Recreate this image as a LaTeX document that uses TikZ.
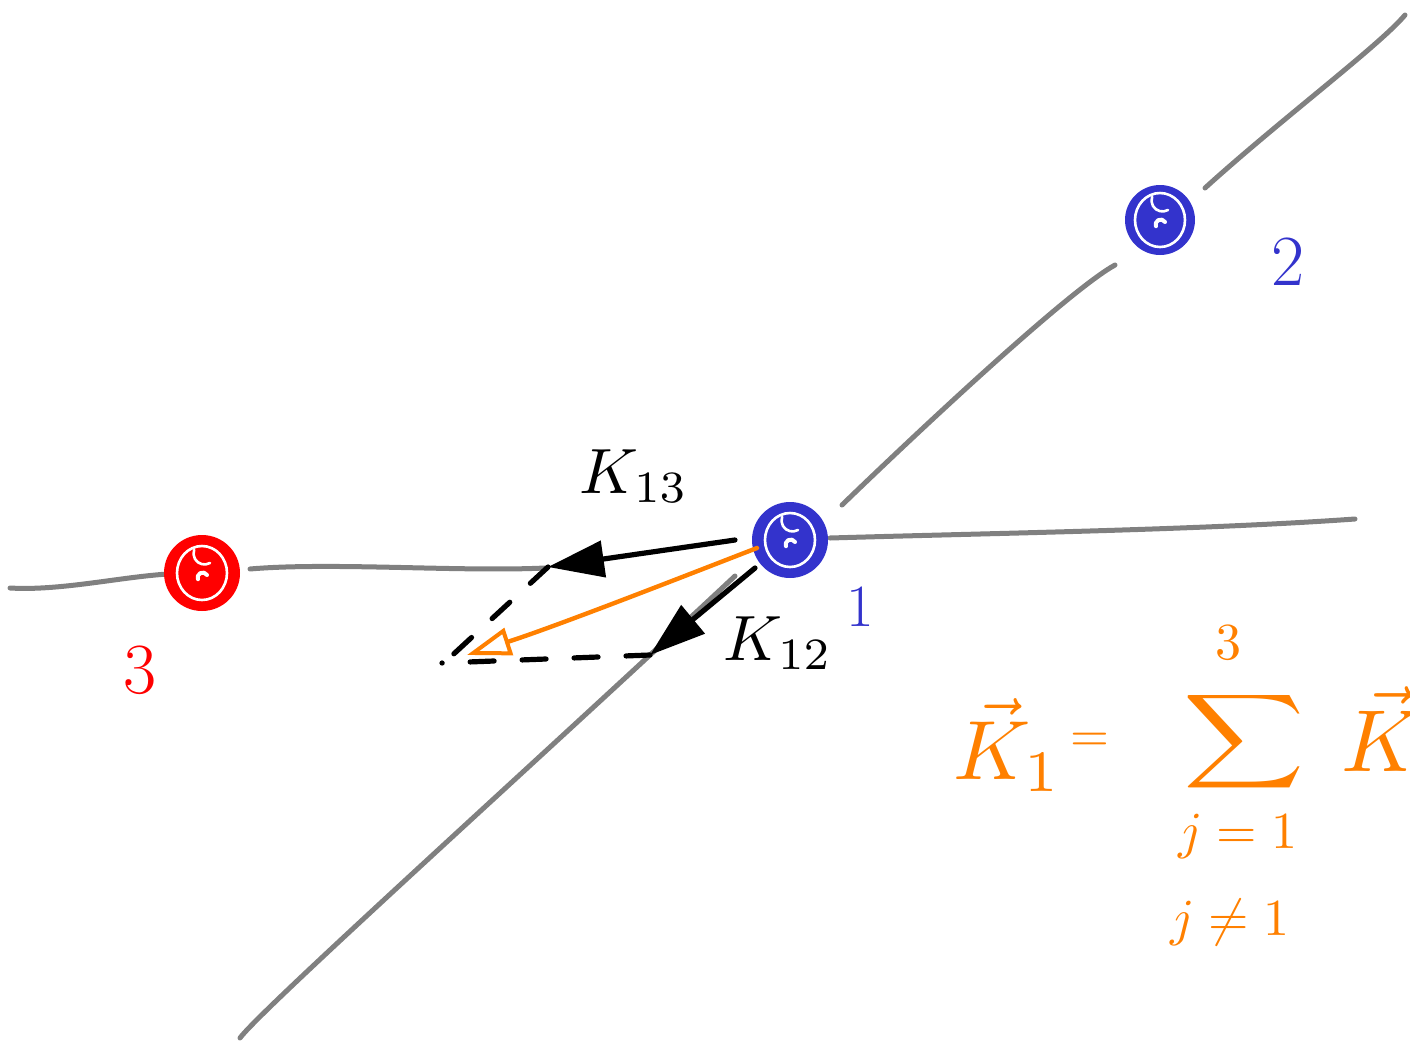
\documentclass[tikz,border=0pt]{standalone}
\usepackage{amsmath}
\usetikzlibrary{arrows.meta}
\definecolor{pblue}{RGB}{51,51,204}
\definecolor{pred}{RGB}{255,0,0}
\definecolor{porange}{RGB}{255,128,0}
\definecolor{pgray}{RGB}{128,128,128}
\begin{document}
\begin{tikzpicture}[x=0.5pt,y=-0.5pt,line cap=round,line join=round,
  track/.style={pgray,line width=2.5pt},
  particle/.style={circle,inner sep=0pt,minimum size=38pt},
  swirl/.style={white,line width=1.3pt},
  force/.style={black,line width=2.6pt,-{Triangle[length=28pt,width=18pt]}},
  helper/.style={black,line width=2.6pt,dash pattern=on 12pt off 14pt},
  total/.style={porange,line width=2.2pt,-{Triangle[open,length=22pt,width=14pt,line width=2pt]}},
  lbl/.style={inner sep=0pt}]
\useasboundingbox (0,0) rectangle (1410,1045);
\clip (0,0) rectangle (1410,1045);
% tracks
\draw[track] (10,588) .. controls (60,591) and (120,577) .. (168,574);
\draw[track] (250,569) .. controls (330,562) and (460,572) .. (545,568);
\draw[track] (830,538) .. controls (1000,533) and (1200,530) .. (1355,519);
\draw[track] (240,1038) .. controls (260,1010) and (560,740) .. (735,576);
\draw[track] (842,505) .. controls (930,420) and (1070,290) .. (1115,265);
\draw[track] (1205,188) .. controls (1280,120) and (1380,45) .. (1405,15);
% particles
\node[particle,fill=pred] (p3) at (202,573) {};
\node[particle,fill=pblue] (p1) at (790,540) {};
\node[particle,fill=pblue,minimum size=35pt] (p2) at (1160,220) {};
\foreach \p in {p1,p2,p3}{
  \draw[swirl] (\p.center) ellipse (25 and 27);
  \draw[swirl] ([shift={(8,-10)}]\p.center) arc (60:200:11);
  \draw[white,line width=2pt] ([shift={(5,2)}]\p.center) arc (-30:-200:5);
}
% labels
\node[lbl,pblue,font=\fontsize{30}{36}\selectfont] (l1) at (860,607) {1};
\node[lbl,pblue,font=\fontsize{36}{42}\selectfont] (l2) at (1288,262) {2};
\node[lbl,pred,font=\fontsize{36}{42}\selectfont] (l3) at (140,670) {3};
% forces
\coordinate (k13s) at (735,540);
\coordinate (k13t) at (548,567);
\coordinate (k12s) at (755,568);
\coordinate (k12t) at (650,655);
\coordinate (sumt) at (467,655);
\coordinate (o1s) at (757,548);
\draw[force] (k13s) -- (k13t);
\draw[force] (k12s) -- (k12t);
\node[lbl,scale=3.2] (k13) at (634,476) {$K_{13}$};
\node[lbl,scale=3.2] (k12) at (778,643) {$K_{12}$};
% parallelogram helpers
\draw[helper] (k13t) -- (445,662);
\draw[helper] (k12t) -- (442,663);
% total force
\draw[total] (o1s) .. controls (700,570) and (560,625) .. (sumt);
% formula
\begin{scope}[porange]
\node[lbl,scale=4.2] (kv) at (1008,745) {$\vec{K}_{1}$};
\node[lbl,scale=2.5] (eq) at (1090,742) {$=$};
\node[lbl,xscale=4.2,yscale=3.3] (sum) at (1244,742) {$\displaystyle\sum$};
\node[lbl,scale=2.6] (up) at (1228,643) {$3$};
\node[lbl,scale=2.6] (lo1) at (1238,836) {$j=1$};
\node[lbl,scale=2.6] (lo2) at (1230,922) {$j\neq1$};
\node[lbl,scale=4.4,anchor=west] (kr) at (1340,742) {$\vec{K}_{1j}$};
\end{scope}
\end{tikzpicture}
\end{document}
